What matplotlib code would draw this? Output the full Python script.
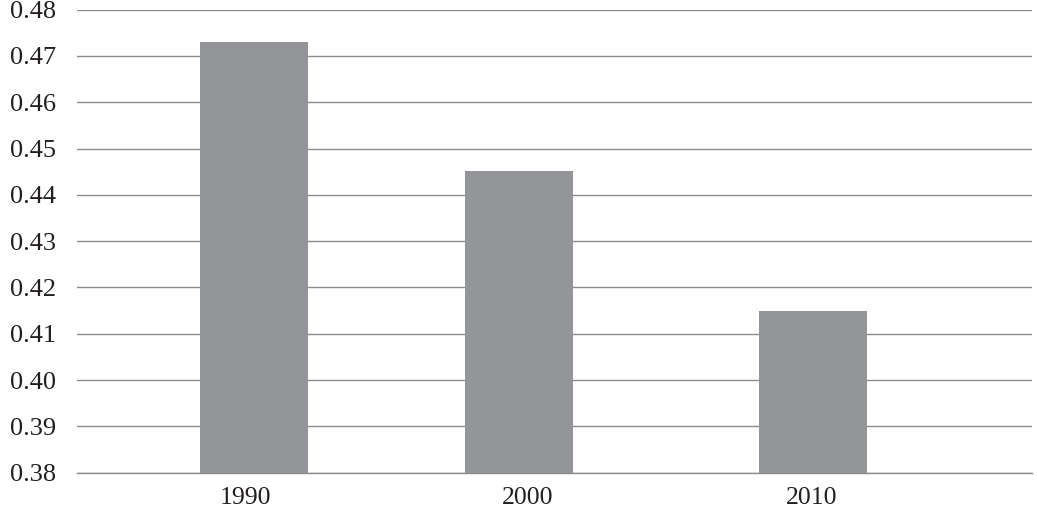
import matplotlib
matplotlib.use("Agg")
import matplotlib.pyplot as plt
import numpy as np

# Data
years = ["1990", "2000", "2010"]
values = [0.4730, 0.4452, 0.4149]
y_ticks = [0.38, 0.39, 0.40, 0.41, 0.42, 0.43, 0.44, 0.45, 0.46, 0.47, 0.48]
y_tick_labels = ["0.38", "0.39", "0.40", "0.41", "0.42", "0.43", "0.44", "0.45", "0.46", "0.47", "0.48"]

# Layout (axes-fraction positions)
bar_centers = np.array([0.185, 0.463, 0.771])
label_centers = np.array([0.176, 0.472, 0.769])
bar_width = 0.113

plt.rcParams['font.family'] = ['Liberation Serif', 'DejaVu Serif']

fig = plt.figure(figsize=(10.37, 5.08), dpi=100)
ax = fig.add_axes([77/1037, 35.3/508, (1032-77)/1037, (472.7-9.7)/508])

text_color = "#231f20"
grid_color = "#8c8c8c"

ax.set_xlim(0, 1)
ax.set_ylim(0.38, 0.48)
ax.set_yticks(y_ticks)
ax.set_yticklabels(y_tick_labels)
ax.yaxis.grid(True, color=grid_color, linewidth=1.0)
ax.set_axisbelow(True)

ax.bar(bar_centers, np.array(values) - 0.38, bottom=0.38, width=bar_width,
       color="#939598", zorder=3)

ax.set_xticks(label_centers)
ax.set_xticklabels(years)

for s in ["left", "right", "top"]:
    ax.spines[s].set_visible(False)
ax.spines["bottom"].set_color(grid_color)
ax.spines["bottom"].set_linewidth(1.0)

ax.tick_params(axis="y", length=0, pad=15, labelsize=19, labelcolor=text_color)
ax.tick_params(axis="x", length=0, pad=10.5, labelsize=18.5, labelcolor=text_color)

fig.savefig("out.png", dpi=100)
